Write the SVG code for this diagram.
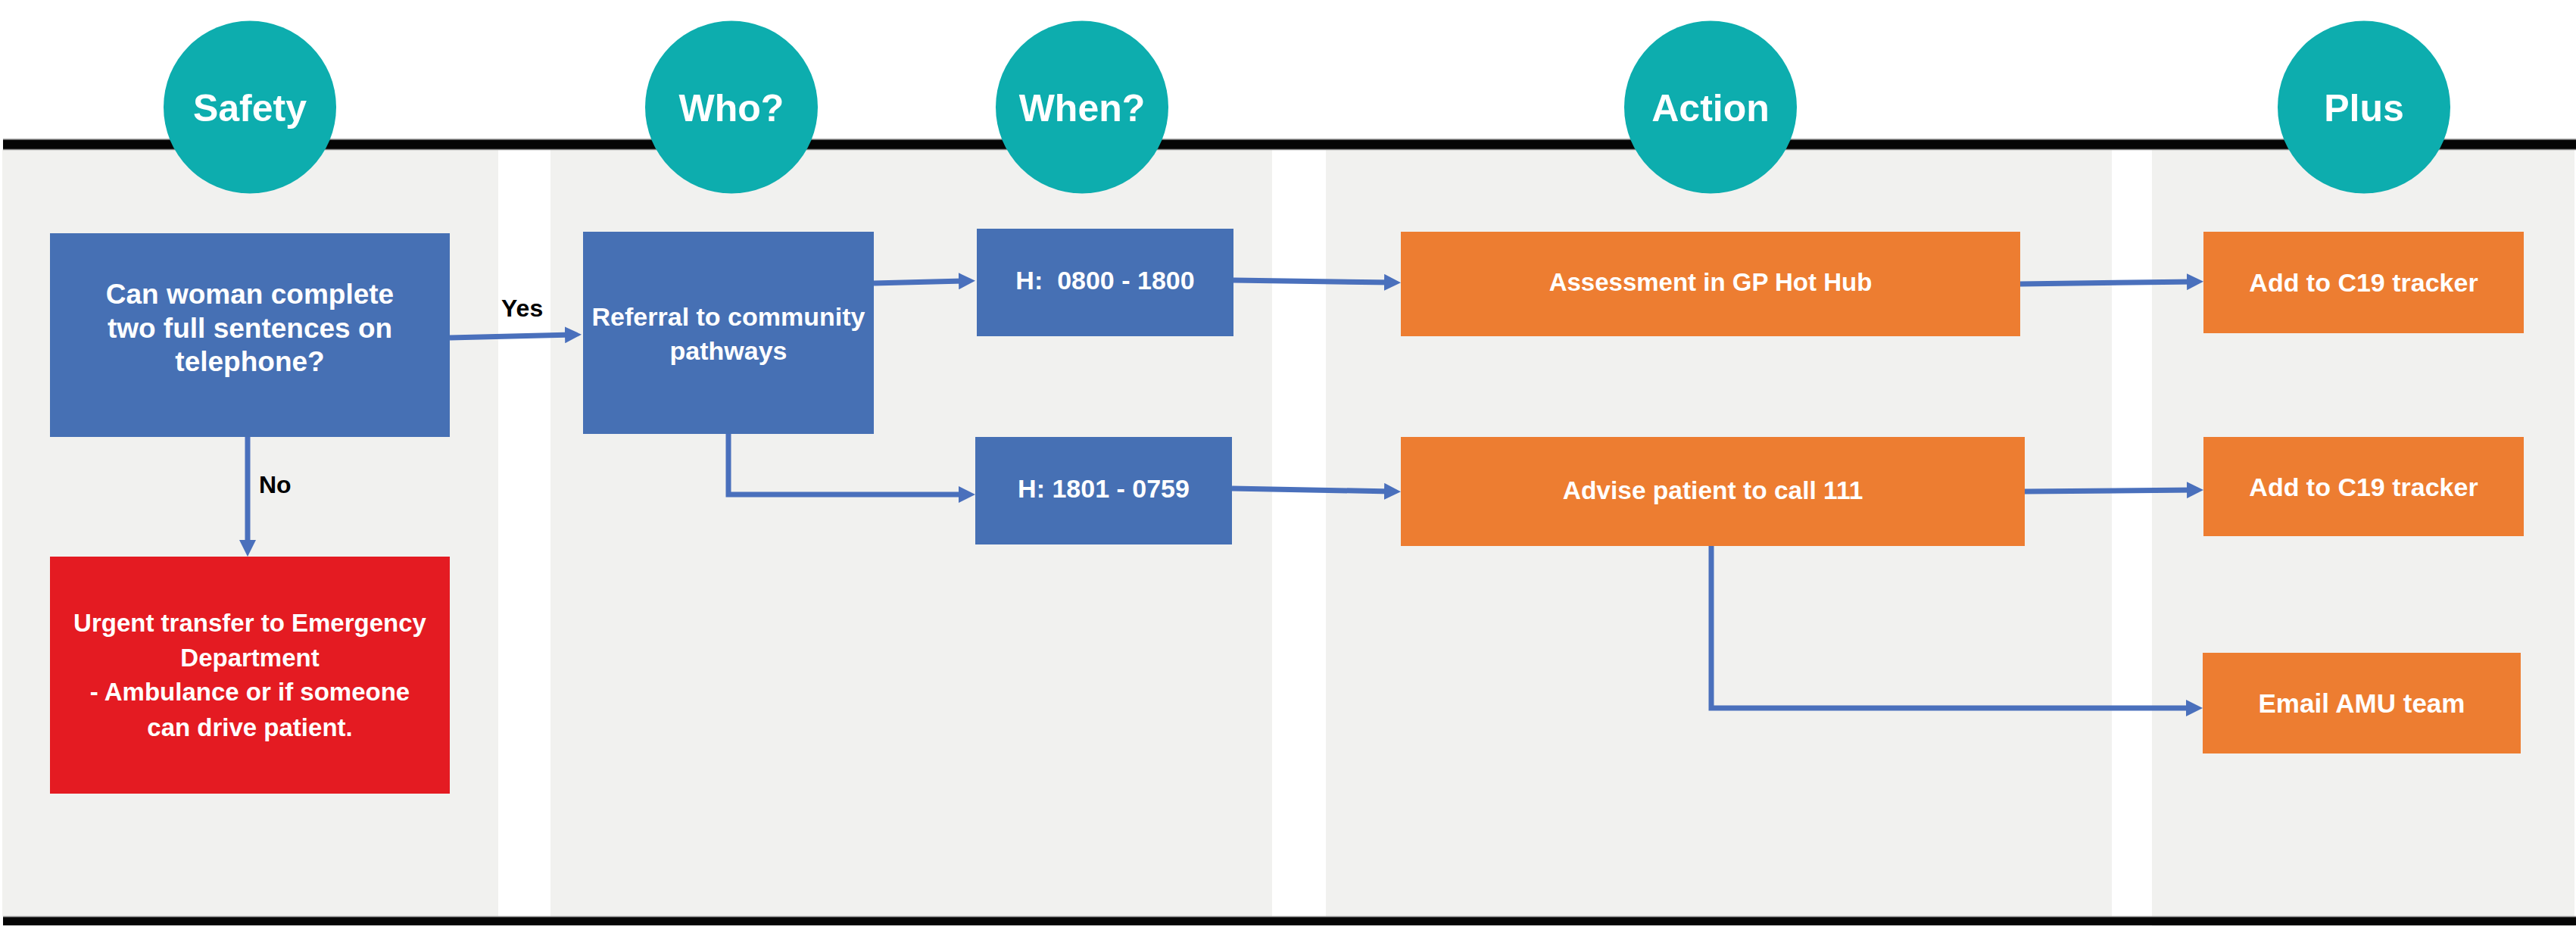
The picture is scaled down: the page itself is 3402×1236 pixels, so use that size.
<svg xmlns="http://www.w3.org/2000/svg" width="3402" height="1236" viewBox="0 0 3402 1236">
  <style>
    .panel { fill: #F1F1EF; }
    .bar { fill: #050505; }
    .barEdge { stroke: #8A8A8A; stroke-width: 1.5; }
    .head { fill: #0DADAE; }
    .headText { font-family: "Liberation Sans", Arial, sans-serif; font-weight: bold; font-size: 50px; fill: #FFFFFF; text-anchor: middle; }
    .blue { fill: #4670B4; }
    .orange { fill: #ED7D31; }
    .red { fill: #E41B22; }
    .bt { font-family: "Liberation Sans", Arial, sans-serif; font-weight: bold; font-size: 34px; fill: #FFFFFF; text-anchor: middle; }
    .lbl { font-family: "Liberation Sans", Arial, sans-serif; font-weight: bold; font-size: 32px; fill: #000000; }
    .conn { fill: none; stroke: #4A70BC; stroke-width: 7; }
  </style>
  <defs>
    <marker id="arrow" markerUnits="userSpaceOnUse" markerWidth="22" markerHeight="22" refX="10" refY="11" orient="auto">
      <path d="M0,0 L22,11 L0,22 z" fill="#4A70BC"/>
    </marker>
  </defs>

  <rect width="3402" height="1236" fill="#FFFFFF"/>

  <g id="lanes">
    <rect class="panel" x="3" y="197" width="655" height="1013"/>
    <rect class="panel" x="727" y="197" width="953" height="1013"/>
    <rect class="panel" x="1751" y="197" width="1038" height="1013"/>
    <rect class="panel" x="2842" y="197" width="558" height="1026"/>
    <rect class="bar" x="4" y="184" width="3398" height="13"/>
    <line class="barEdge" x1="4" y1="184" x2="3402" y2="184"/>
    <line class="barEdge" x1="4" y1="197.5" x2="3402" y2="197.5"/>
    <rect class="bar" x="4" y="1211" width="3398" height="11"/>
    <line class="barEdge" x1="4" y1="1210.5" x2="3402" y2="1210.5"/>
  </g>

  <g id="head-safety">
    <circle class="head" cx="330" cy="141.5" r="114"/>
    <text class="headText" x="330" y="160">Safety</text>
  </g>
  <g id="head-who">
    <circle class="head" cx="966" cy="141.5" r="114"/>
    <text class="headText" x="966" y="160">Who?</text>
  </g>
  <g id="head-when">
    <circle class="head" cx="1429" cy="141.5" r="114"/>
    <text class="headText" x="1429" y="160">When?</text>
  </g>
  <g id="head-action">
    <circle class="head" cx="2259" cy="141.5" r="114"/>
    <text class="headText" x="2259" y="160">Action</text>
  </g>
  <g id="head-plus">
    <circle class="head" cx="3122" cy="141.5" r="114"/>
    <text class="headText" x="3122" y="160">Plus</text>
  </g>

  <g id="question">
    <rect class="blue" x="66" y="308" width="528" height="269"/>
    <text class="bt" style="font-size:37px" x="330" y="401">Can woman complete</text>
    <text class="bt" style="font-size:37px" x="330" y="446">two full sentences on</text>
    <text class="bt" style="font-size:37px" x="330" y="490">telephone?</text>
  </g>

  <g id="urgent">
    <rect class="red" x="66" y="735" width="528" height="313"/>
    <text class="bt" style="font-size:33px" x="330" y="834">Urgent transfer to Emergency</text>
    <text class="bt" style="font-size:33px" x="330" y="880">Department</text>
    <text class="bt" style="font-size:33px" x="330" y="925">- Ambulance or if someone</text>
    <text class="bt" style="font-size:33px" x="330" y="972">can drive patient.</text>
  </g>

  <g id="referral">
    <rect class="blue" x="770" y="306" width="384" height="267"/>
    <text class="bt" x="962" y="430">Referral to community</text>
    <text class="bt" x="962" y="475">pathways</text>
  </g>

  <g id="hours-day">
    <rect class="blue" x="1290" y="302" width="339" height="142"/>
    <text class="bt" x="1459.5" y="382" xml:space="preserve">H:  0800 - 1800</text>
  </g>

  <g id="hours-night">
    <rect class="blue" x="1288" y="577" width="339" height="142"/>
    <text class="bt" x="1457.5" y="657">H: 1801 - 0759</text>
  </g>

  <g id="assessment">
    <rect class="orange" x="1850" y="306" width="818" height="138"/>
    <text class="bt" style="font-size:33px" x="2259" y="384">Assessment in GP Hot Hub</text>
  </g>

  <g id="advise">
    <rect class="orange" x="1850" y="577" width="824" height="144"/>
    <text class="bt" style="font-size:33.5px" x="2262" y="659">Advise patient to call 111</text>
  </g>

  <g id="tracker-1">
    <rect class="orange" x="2910" y="306" width="423" height="134"/>
    <text class="bt" x="3121.5" y="385">Add to C19 tracker</text>
  </g>

  <g id="tracker-2">
    <rect class="orange" x="2910" y="577" width="423" height="131"/>
    <text class="bt" x="3121.5" y="655">Add to C19 tracker</text>
  </g>

  <g id="email-amu">
    <rect class="orange" x="2909" y="862" width="420" height="133"/>
    <text class="bt" style="font-size:35px" x="3119" y="941">Email AMU team</text>
  </g>

  <g id="connectors">
    <path class="conn" marker-end="url(#arrow)" d="M594,446 L756,442"/>
    <path class="conn" marker-end="url(#arrow)" d="M327,577 L327,723"/>
    <path class="conn" marker-end="url(#arrow)" d="M1154,374 L1276,371"/>
    <path class="conn" marker-end="url(#arrow)" d="M962,573 L962,653 L1276,653"/>
    <path class="conn" marker-end="url(#arrow)" d="M1629,370 L1838,373"/>
    <path class="conn" marker-end="url(#arrow)" d="M1627,645 L1838,649"/>
    <path class="conn" marker-end="url(#arrow)" d="M2668,375 L2898,372"/>
    <path class="conn" marker-end="url(#arrow)" d="M2674,649 L2898,647"/>
    <path class="conn" marker-end="url(#arrow)" d="M2260,721 L2260,935 L2897,935"/>
    <text class="lbl" x="662" y="418">Yes</text>
    <text class="lbl" x="342" y="651">No</text>
  </g>
</svg>
